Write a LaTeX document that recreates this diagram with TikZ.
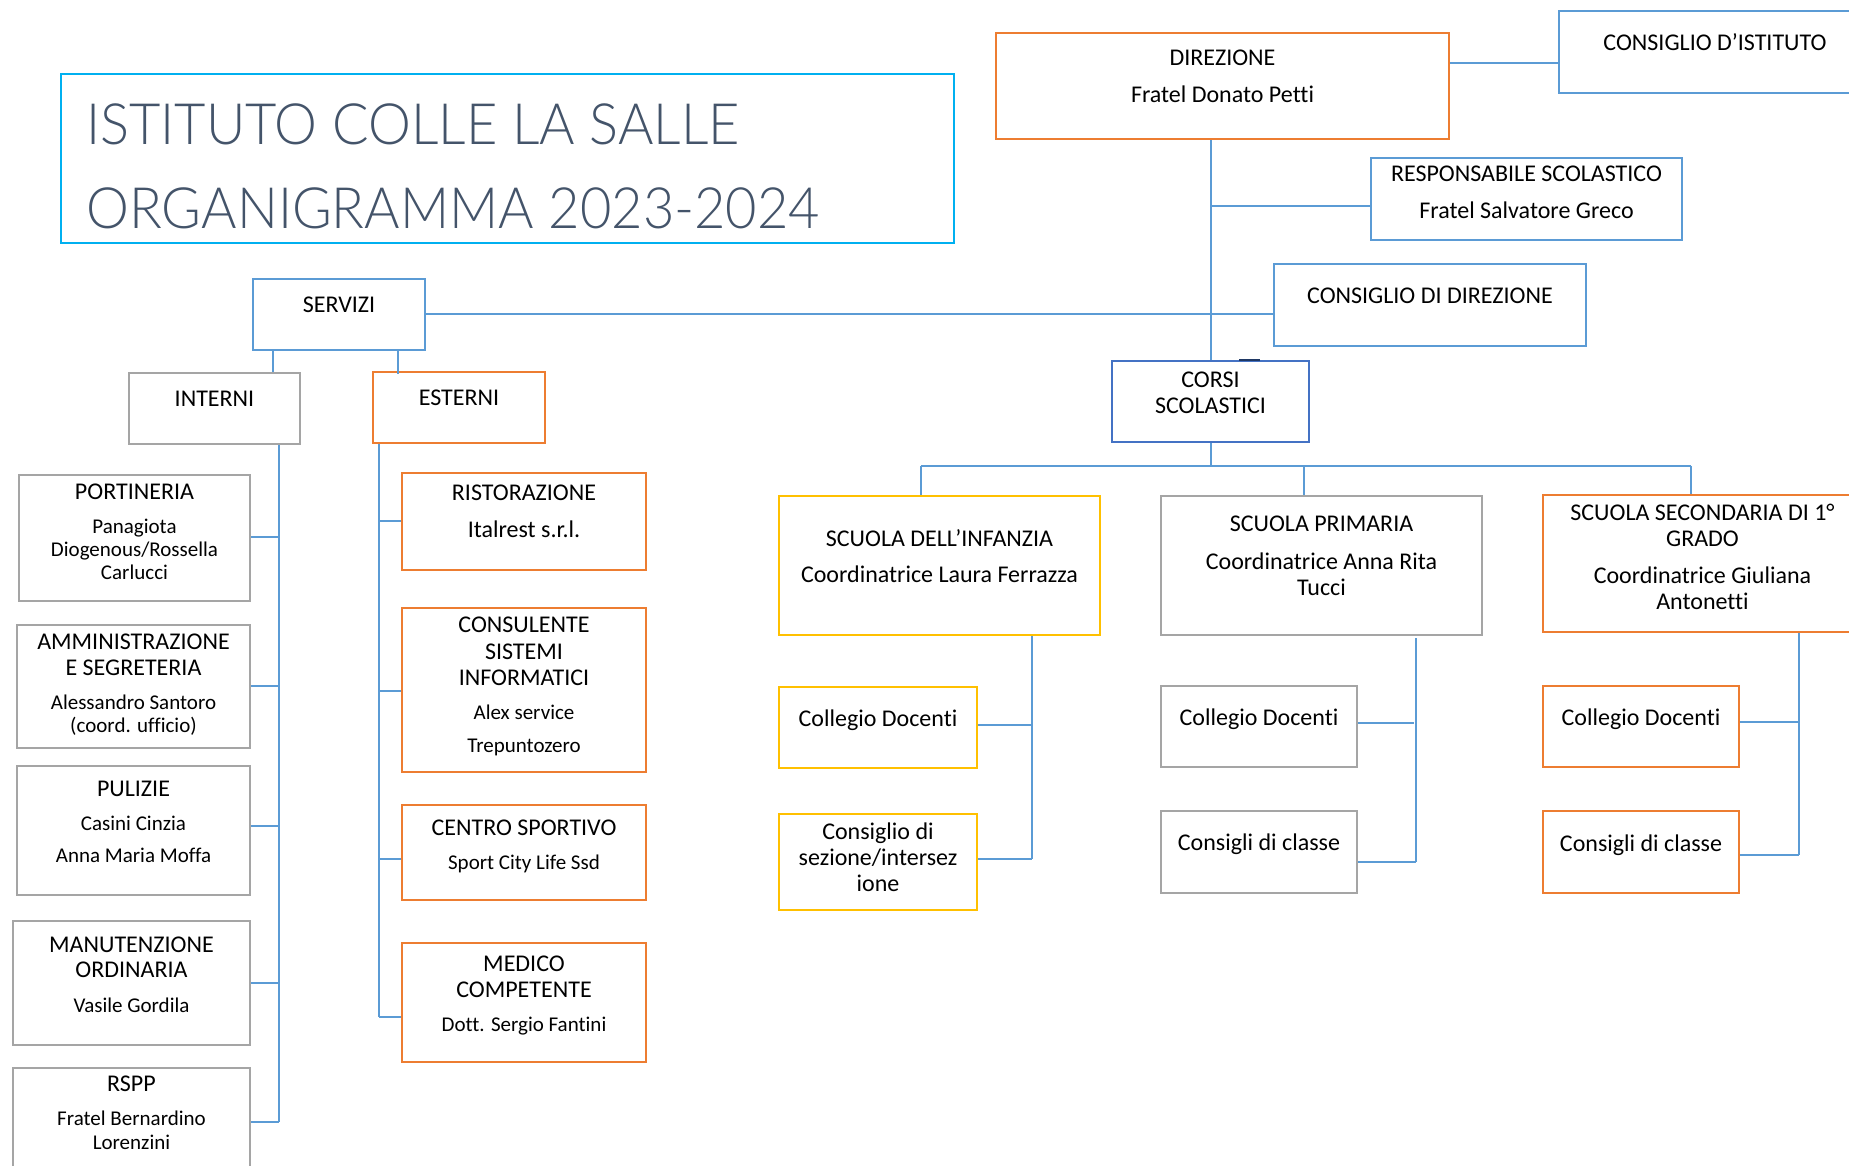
\documentclass[tikz,border=0pt]{standalone}
\usepackage{fontspec}
\setmainfont{Carlito}[Ligatures=NoCommon]
\newfontfamily\headingfont{Lato}[UprightFont=* Light, FakeStretch=0.95]
\usetikzlibrary{fit}

\definecolor{linkblue}{HTML}{5B9BD5}
\definecolor{boxblue}{HTML}{5B9BD5}
\definecolor{boxdeep}{HTML}{4472C4}
\definecolor{boxorange}{HTML}{ED7D31}
\definecolor{boxgray}{HTML}{A5A5A5}
\definecolor{boxyellow}{HTML}{FFC000}
\definecolor{titleframe}{HTML}{00B0F0}
\definecolor{titleink}{HTML}{44546A}
\definecolor{navymark}{HTML}{1F3864}

\tikzset{
  orgbox/.style={draw=#1, line width=1.4pt, inner sep=0pt},
  link/.style={draw=linkblue, line width=0.7pt},
  headtext/.style={anchor=base, inner sep=0pt, font=\fontsize{12}{13}\selectfont},
  persontext/.style={anchor=base, inner sep=0pt, font=\fontsize{10.5}{11.5}\selectfont},
  titletext/.style={anchor=base west, inner sep=0pt, text=titleink, font=\headingfont\fontsize{28.5}{31}\selectfont},
}

\begin{document}
\begin{tikzpicture}[x=0.5pt, y=-0.5pt]
\useasboundingbox (0,0) rectangle (1849,1166);
\fill[white] (0,0) rectangle (1849,1166);
\clip (0,0) rectangle (1849,1166);

% ---- title block ----
\node[draw=titleframe, line width=0.8pt, inner sep=0pt, fit={(61,74) (954,243)}] (title) {};
\node[titletext] (title-a) at (86,145) {ISTITUTO COLLE LA SALLE};
\node[titletext] (title-b) at (86,229) {ORGANIGRAMMA 2023-2024};

% ---- governing bodies ----
\node[orgbox=boxorange, fit={(996,33) (1449,139)}] (dir) {};
\node[headtext] (dir-a) at (dir.north |- 0,66) {DIREZIONE};
\node[headtext] (dir-b) at (dir.north |- 0,103) {Fratel Donato Petti};

\node[orgbox=boxblue, fit={(1559,11) (1871,93)}] (cdi) {};
\node[headtext] (cdi-a) at (cdi.north |- 0,51) {CONSIGLIO D’ISTITUTO};

\node[orgbox=boxblue, fit={(1371,158) (1682,240)}] (resp) {};
\node[headtext] (resp-a) at (resp.north |- 0,182) {RESPONSABILE SCOLASTICO};
\node[headtext] (resp-b) at (resp.north |- 0,219) {Fratel Salvatore Greco};

\node[orgbox=boxblue, fit={(1274,264) (1586,346)}] (cdd) {};
\node[headtext] (cdd-a) at (cdd.north |- 0,304) {CONSIGLIO DI DIREZIONE};

\node[orgbox=boxdeep, fit={(1112,361) (1309,442)}] (corsi) {};
\node[headtext] (corsi-a) at (corsi.north |- 0,387) {CORSI};
\node[headtext] (corsi-b) at (corsi.north |- 0,414) {SCOLASTICI};
\draw[navymark, line width=1.2pt] (1239,360) -- (1260,360);

% ---- services ----
\node[orgbox=boxblue, fit={(253,279) (425,350)}] (serv) {};
\node[headtext] (serv-a) at (serv.north |- 0,313) {SERVIZI};

\node[orgbox=boxgray, fit={(129,373) (300,444)}] (int) {};
\node[headtext] (int-a) at (int.north |- 0,407) {INTERNI};

\node[orgbox=boxorange, fit={(373,372) (545,443)}] (est) {};
\node[headtext] (est-a) at (est.north |- 0,406) {ESTERNI};

% internal services
\node[orgbox=boxgray, fit={(19,475) (250,601)}] (port) {};
\node[headtext] (port-a) at (port.north |- 0,499) {PORTINERIA};
\node[persontext] (port-b) at (port.north |- 0,533) {Panagiota};
\node[persontext] (port-c) at (port.north |- 0,556) {Diogenous/Rossella};
\node[persontext] (port-d) at (port.north |- 0,579) {Carlucci};

\node[orgbox=boxgray, fit={(17,625) (250,748)}] (amm) {};
\node[headtext] (amm-a) at (amm.north |- 0,649) {AMMINISTRAZIONE};
\node[headtext] (amm-b) at (amm.north |- 0,675) {E SEGRETERIA};
\node[persontext] (amm-c) at (amm.north |- 0,709) {Alessandro Santoro};
\node[persontext] (amm-d) at (amm.north |- 0,732) {(coord. ufficio)};

\node[orgbox=boxgray, fit={(17,766) (250,895)}] (pul) {};
\node[headtext] (pul-a) at (pul.north |- 0,796) {PULIZIE};
\node[persontext] (pul-b) at (pul.north |- 0,830) {Casini Cinzia};
\node[persontext] (pul-c) at (pul.north |- 0,862) {Anna Maria Moffa};

\node[orgbox=boxgray, fit={(13,921) (250,1045)}] (man) {};
\node[headtext] (man-a) at (man.north |- 0,952) {MANUTENZIONE};
\node[headtext] (man-b) at (man.north |- 0,977) {ORDINARIA};
\node[persontext] (man-c) at (man.north |- 0,1012) {Vasile Gordila};

\node[orgbox=boxgray, fit={(13,1068) (250,1190)}] (rspp) {};
\node[headtext] (rspp-a) at (rspp.north |- 0,1091) {RSPP};
\node[persontext] (rspp-b) at (rspp.north |- 0,1125) {Fratel Bernardino};
\node[persontext] (rspp-c) at (rspp.north |- 0,1149) {Lorenzini};

% external services
\node[orgbox=boxorange, fit={(402,473) (646,570)}] (ris) {};
\node[headtext] (ris-a) at (ris.north |- 0,501) {RISTORAZIONE};
\node[headtext] (ris-b) at (ris.north |- 0,538) {Italrest s.r.l.};

\node[orgbox=boxorange, fit={(402,608) (646,772)}] (cons) {};
\node[headtext] (cons-a) at (cons.north |- 0,632) {CONSULENTE};
\node[headtext] (cons-b) at (cons.north |- 0,659) {SISTEMI};
\node[headtext] (cons-c) at (cons.north |- 0,685) {INFORMATICI};
\node[persontext] (cons-d) at (cons.north |- 0,719) {Alex service};
\node[persontext] (cons-e) at (cons.north |- 0,752) {Trepuntozero};

\node[orgbox=boxorange, fit={(402,805) (646,900)}] (sport) {};
\node[headtext] (sport-a) at (sport.north |- 0,835) {CENTRO SPORTIVO};
\node[persontext] (sport-b) at (sport.north |- 0,869) {Sport City Life Ssd};

\node[orgbox=boxorange, fit={(402,943) (646,1062)}] (med) {};
\node[headtext] (med-a) at (med.north |- 0,971) {MEDICO};
\node[headtext] (med-b) at (med.north |- 0,997) {COMPETENTE};
\node[persontext] (med-c) at (med.north |- 0,1031) {Dott. Sergio Fantini};

% ---- schools ----
\node[orgbox=boxyellow, fit={(779,496) (1100,635)}] (inf) {};
\node[headtext] (inf-a) at (inf.north |- 0,546) {SCUOLA DELL’INFANZIA};
\node[headtext] (inf-b) at (inf.north |- 0,582) {Coordinatrice Laura Ferrazza};

\node[orgbox=boxgray, fit={(1161,496) (1482,635)}] (pri) {};
\node[headtext] (pri-a) at (pri.north |- 0,531) {SCUOLA PRIMARIA};
\node[headtext] (pri-b) at (pri.north |- 0,569) {Coordinatrice Anna Rita};
\node[headtext] (pri-c) at (pri.north |- 0,595) {Tucci};

\node[orgbox=boxorange, fit={(1543,495) (1862,632)}] (sec) {};
\node[headtext] (sec-a) at (sec.north |- 0,520) {SCUOLA SECONDARIA DI 1°};
\node[headtext] (sec-b) at (sec.north |- 0,546) {GRADO};
\node[headtext] (sec-c) at (sec.north |- 0,583) {Coordinatrice Giuliana};
\node[headtext] (sec-d) at (sec.north |- 0,609) {Antonetti};

\node[orgbox=boxyellow, fit={(779,687) (977,768)}] (infcd) {};
\node[headtext] (infcd-a) at (infcd.north |- 0,726) {Collegio Docenti};
\node[orgbox=boxyellow, fit={(779,814) (977,910)}] (infcs) {};
\node[headtext] (infcs-a) at (infcs.north |- 0,839) {Consiglio di};
\node[headtext] (infcs-b) at (infcs.north |- 0,865) {sezione/intersez};
\node[headtext] (infcs-c) at (infcs.north |- 0,891) {ione};

\node[orgbox=boxgray, fit={(1161,686) (1357,767)}] (pricd) {};
\node[headtext] (pricd-a) at (pricd.north |- 0,725) {Collegio Docenti};
\node[orgbox=boxgray, fit={(1161,811) (1357,893)}] (pricc) {};
\node[headtext] (pricc-a) at (pricc.north |- 0,850) {Consigli di classe};

\node[orgbox=boxorange, fit={(1543,686) (1739,767)}] (seccd) {};
\node[headtext] (seccd-a) at (seccd.north |- 0,725) {Collegio Docenti};
\node[orgbox=boxorange, fit={(1543,811) (1739,893)}] (seccc) {};
\node[headtext] (seccc-a) at (seccc.north |- 0,851) {Consigli di classe};

% ---- connectors ----
\coordinate (trunk) at (1211,0);
\coordinate (bus) at (0,466);
\path[link] (dir.east |- 0,63) -- (cdi.west |- 0,63);
\path[link] (trunk |- dir.south) -- (trunk |- corsi.north);
\path[link] (trunk |- 0,206) -- (resp.west |- 0,206);
\path[link] (serv.east |- 0,314) -- (cdd.west |- 0,314);

\path[link] (trunk |- corsi.south) -- (trunk |- bus);
\path[link] (921,466) -- (1691,466);
\path[link] (921,466) -- (921,0 |- inf.north);
\path[link] (1304,466) -- (1304,0 |- pri.north);
\path[link] (1691,466) -- (1691,0 |- sec.north);

\path[link] (273,0 |- serv.south) -- (273,0 |- int.north);
\path[link] (398,0 |- serv.south) -- (398,374);

\path[link] (279,0 |- int.south) -- (279,1122);
\path[link] (port.east |- 0,537) -- (279,537);
\path[link] (amm.east |- 0,686) -- (279,686);
\path[link] (pul.east |- 0,826) -- (279,826);
\path[link] (man.east |- 0,983) -- (279,983);
\path[link] (rspp.east |- 0,1122) -- (279,1122);

\path[link] (379,0 |- est.south) -- (379,1017);
\path[link] (379,521) -- (ris.west |- 0,521);
\path[link] (379,691) -- (cons.west |- 0,691);
\path[link] (379,859) -- (sport.west |- 0,859);
\path[link] (379,1017) -- (med.west |- 0,1017);

\path[link] (1032,0 |- inf.south) -- (1032,859);
\path[link] (infcd.east |- 0,725) -- (1032,725);
\path[link] (infcs.east |- 0,859) -- (1032,859);

\path[link] (1416,638) -- (1416,862);
\path[link] (pricd.east |- 0,723) -- (1414,723);
\path[link] (pricc.east |- 0,862) -- (1416,862);

\path[link] (1799,0 |- sec.south) -- (1799,855);
\path[link] (seccd.east |- 0,722) -- (1799,722);
\path[link] (seccc.east |- 0,855) -- (1799,855);
\end{tikzpicture}
\end{document}
